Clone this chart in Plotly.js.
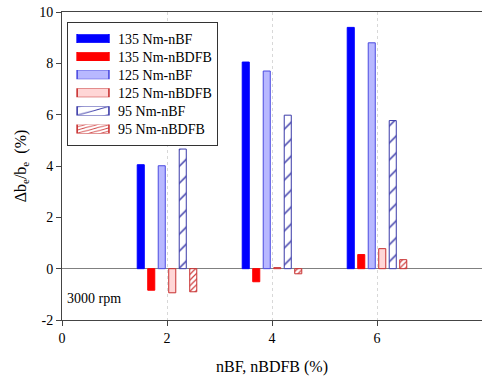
<!DOCTYPE html>
<html>
<head>
<meta charset="utf-8">
<script src="https://cdn.plot.ly/plotly-3.0.1.min.js"></script>
<style>html,body{margin:0;padding:0;background:#fff;}#chart{width:482px;height:380px;}</style>
</head>
<body>
<div id="chart"></div>
<script>
const groups = [2, 4, 6];
const seriesNames = ["135 Nm-nBF", "135 Nm-nBDFB", "125 Nm-nBF", "125 Nm-nBDFB", "95 Nm-nBF", "95 Nm-nBDFB"];
const v135nBF   = [4.05, 8.05, 9.40];
const v135nBDFB = [-0.84, -0.51, 0.55];
const v125nBF   = [4.01, 7.70, 8.80];
const v125nBDFB = [-0.94, 0.04, 0.78];
const v95nBF    = [4.66, 5.98, 5.77];
const v95nBDFB  = [-0.90, -0.20, 0.35];
const xTicks = [0, 2, 4, 6];
const yTicks = [-2, 0, 2, 4, 6, 8, 10];

const serif = "Liberation Serif";
const styles = [
  {marker: {color: "#0000ff", line: {color: "#0000ff", width: 1}}},
  {marker: {color: "#ff0000", line: {color: "#ff0000", width: 1}}},
  {marker: {color: "#b8b8ff", line: {color: "#4a4ae0", width: 1}}},
  {marker: {color: "#ffd6d6", line: {color: "#c83030", width: 1}}},
  {marker: {color: "#ffffff", line: {color: "#3a3aa8", width: 1},
            pattern: {shape: "/", fgcolor: "#3a3aa8", bgcolor: "#ffffff", size: 12, solidity: 0.12}}},
  {marker: {color: "#ffffff", line: {color: "#c83030", width: 1},
            pattern: {shape: "/", fgcolor: "#d04040", bgcolor: "#ffffff", size: 4, solidity: 0.3}}}
];
const values = [v135nBF, v135nBDFB, v125nBF, v125nBDFB, v95nBF, v95nBDFB];

const data = values.map((v, i) => Object.assign({
  type: "bar", x: groups, y: v, name: seriesNames[i], hoverinfo: "skip"
}, styles[i]));

const layout = {
  width: 482, height: 380,
  margin: {l: 62, r: 0, t: 12, b: 60},
  paper_bgcolor: "#fff", plot_bgcolor: "#fff",
  barmode: "group", bargap: 0.4, bargroupgap: 0.33,
  font: {family: serif, size: 14, color: "#000"},
  showlegend: true,
  legend: {x: 0.012, y: 0.968, xanchor: "left", yanchor: "top",
    bgcolor: "#fff", bordercolor: "#333", borderwidth: 1,
    font: {family: serif, size: 14, color: "#000"}, tracegroupgap: 0, itemwidth: 40},
  xaxis: {range: [0, 8], tickvals: xTicks, ticktext: xTicks.map(String),
    showline: true, linecolor: "#444", linewidth: 1, mirror: true,
    ticks: "outside", ticklen: 5, tickcolor: "#444",
    showgrid: true, gridcolor: "#d8d8d8", griddash: "dot", gridwidth: 1,
    zeroline: false,
    tickfont: {family: serif, size: 14},
    title: {text: "nBF, nBDFB (%)", font: {family: serif, size: 16}, standoff: 16}},
  yaxis: {range: [-2, 10], tickvals: yTicks, ticktext: yTicks.map(String),
    showline: true, linecolor: "#444", linewidth: 1, mirror: false,
    ticks: "outside", ticklen: 5, tickcolor: "#444",
    showgrid: false, zeroline: true, zerolinecolor: "#808080", zerolinewidth: 1.5,
    tickfont: {family: serif, size: 14},
    title: {text: "Δb<sub>e</sub>/b<sub>e</sub>  (%)", font: {family: serif, size: 16}, standoff: 8}},
  annotations: [{text: "3000 rpm", xref: "paper", yref: "y", x: 0.006, y: -1.18,
    xanchor: "left", yanchor: "middle", showarrow: false,
    font: {family: serif, size: 14, color: "#000"}}]
};

Plotly.newPlot("chart", data, layout, {staticPlot: true, displayModeBar: false}).then(function (gd) {
  // widen legend swatches into flat rectangles like the reference
  gd.querySelectorAll(".legend .legendpoints path").forEach(function (p) {
    p.setAttribute("transform", "translate(25,0) scale(2.65,0.72)");
    p.style.strokeWidth = "0.6px";
  });
  // tighten legend row spacing
  const items = Array.from(gd.querySelectorAll(".legend .traces"));
  const re = /translate\(\s*([-\d.]+)[ ,]+([-\d.]+)\s*\)/;
  if (items.length) {
    const pos = items.map(function (it) {
      const m = re.exec(it.getAttribute("transform") || "");
      return m ? [parseFloat(m[1]), parseFloat(m[2])] : null;
    });
    if (pos.every(Boolean)) {
      const spacing = 18.1;
      const y0 = pos[0][1];
      items.forEach(function (it, i) {
        it.setAttribute("transform", "translate(" + pos[i][0] + "," + (y0 + i * spacing) + ")");
      });
      const shrink = pos[pos.length - 1][1] - (y0 + (items.length - 1) * spacing);
      const bg = gd.querySelector(".legend .bg");
      if (bg) {
        const h = parseFloat(bg.getAttribute("height"));
        bg.setAttribute("height", h - shrink);
      }
    }
  }
});
</script>
</body>
</html>
